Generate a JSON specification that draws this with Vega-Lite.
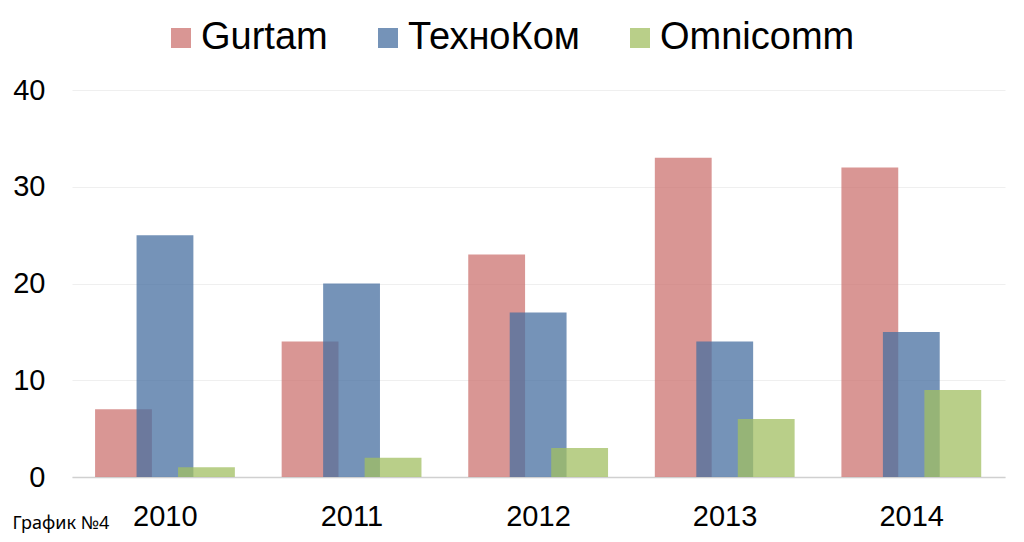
{
  "$schema": "https://vega.github.io/schema/vega-lite/v6.json",
  "autosize": "none",
  "width": 933,
  "height": 387,
  "padding": {"left": 72, "top": 90, "right": 19, "bottom": 65},
  "background": "white",
  "config": {
    "font": "Liberation Sans",
    "view": {"stroke": null}
  },
  "data": {
    "values": [
      {"year": "2010", "company": "Gurtam", "value": 7},
      {"year": "2010", "company": "ТехноКом", "value": 25},
      {"year": "2010", "company": "Omnicomm", "value": 1},
      {"year": "2011", "company": "Gurtam", "value": 14},
      {"year": "2011", "company": "ТехноКом", "value": 20},
      {"year": "2011", "company": "Omnicomm", "value": 2},
      {"year": "2012", "company": "Gurtam", "value": 23},
      {"year": "2012", "company": "ТехноКом", "value": 17},
      {"year": "2012", "company": "Omnicomm", "value": 3},
      {"year": "2013", "company": "Gurtam", "value": 33},
      {"year": "2013", "company": "ТехноКом", "value": 14},
      {"year": "2013", "company": "Omnicomm", "value": 6},
      {"year": "2014", "company": "Gurtam", "value": 32},
      {"year": "2014", "company": "ТехноКом", "value": 15},
      {"year": "2014", "company": "Omnicomm", "value": 9}
    ]
  },
  "mark": {"type": "bar", "opacity": 0.75, "width": {"band": 1.37}},
  "encoding": {
    "x": {
      "field": "year",
      "type": "nominal",
      "scale": {"paddingInner": 0.333, "paddingOuter": 0.1667, "align": 0.741},
      "axis": {
        "labelAngle": 0,
        "labelFontSize": 29,
        "labelColor": "black",
        "labelPadding": 25,
        "labelOffset": -15,
        "ticks": false,
        "domainColor": "#d0d0d0",
        "domainWidth": 1.5,
        "title": "График №4",
        "titleFont": "Noto Sans",
        "titleFontSize": 18,
        "titleFontWeight": "normal",
        "titleColor": "black",
        "titleX": -60,
        "titleY": 51,
        "titleAlign": "left",
        "titleBaseline": "alphabetic",
        "titleAnchor": null
      }
    },
    "xOffset": {
      "field": "company",
      "type": "nominal",
      "scale": {"domain": ["Gurtam", "ТехноКом", "Omnicomm"], "paddingInner": 0, "paddingOuter": 0}
    },
    "y": {
      "field": "value",
      "type": "quantitative",
      "scale": {"domain": [0, 40], "nice": false},
      "axis": {
        "values": [0, 10, 20, 30, 40],
        "title": null,
        "labelFontSize": 29,
        "labelColor": "black",
        "labelPadding": 27,
        "ticks": false,
        "domain": false,
        "gridColor": "#efefef",
        "gridWidth": 1
      }
    },
    "color": {
      "field": "company",
      "type": "nominal",
      "scale": {
        "domain": ["Gurtam", "ТехноКом", "Omnicomm"],
        "range": ["#CC7370", "#476FA0", "#A1BF61"]
      },
      "legend": {
        "title": null,
        "orient": "none",
        "direction": "horizontal",
        "legendX": 90,
        "legendY": -71,
        "symbolType": "square",
        "symbolSize": 400,
        "symbolStrokeWidth": 0,
        "labelFontSize": 38,
        "labelColor": "black",
        "labelOffset": 1,
        "labelLimit": 400,
        "columnPadding": 41
      }
    }
  }
}
